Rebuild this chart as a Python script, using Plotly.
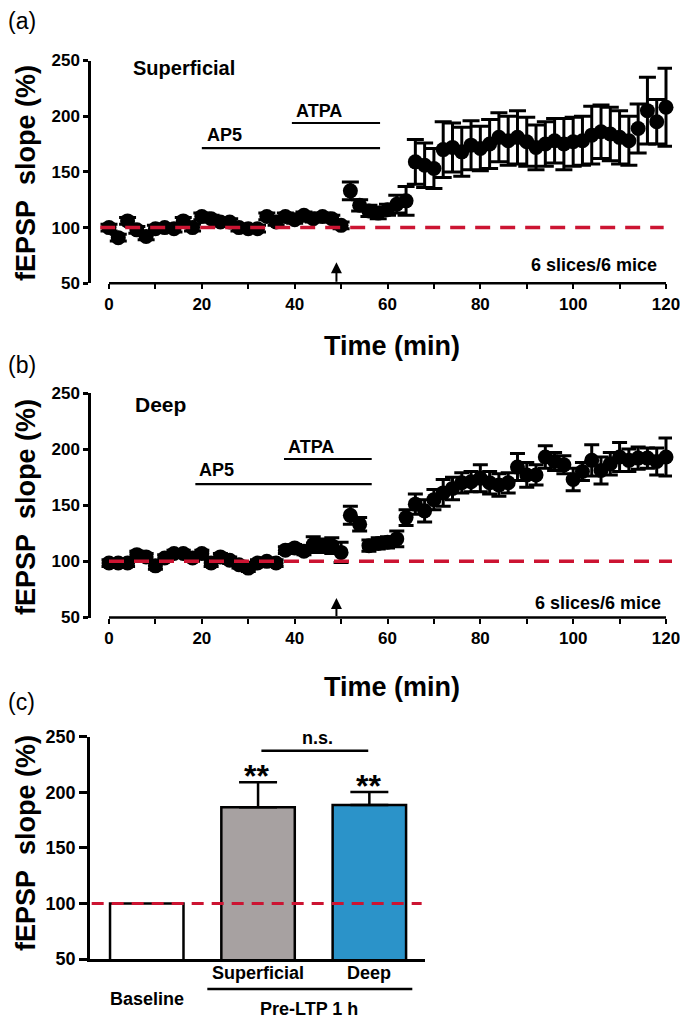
import plotly.graph_objects as go

# target picture size and the page's default body margin (figure starts 8px in)
PAGE_W, PAGE_H = 688, 1021
BODY = 8
W, H = PAGE_W - BODY, PAGE_H - BODY

# ---------------- data ----------------
time_min = [0, 2, 4, 6, 8, 10, 12, 14, 16, 18, 20, 22, 24, 26, 28, 30, 32, 34, 36, 38, 40,
            42, 44, 46, 48, 50, 52, 54, 56, 58, 60, 62, 64, 66, 68, 70, 72, 74, 76, 78, 80,
            82, 84, 86, 88, 90, 92, 94, 96, 98, 100, 102, 104, 106, 108, 110, 112, 114, 116, 118, 120]

sup_mean = [100, 91, 106, 98, 92, 99, 100, 99, 106, 100, 110, 108, 105, 105, 100, 99, 99, 110, 105, 110,
            107, 111, 108, 110, 108, 102,
            133, 120, 115, 113, 116, 121, 124, 159, 156, 153, 170, 172, 168, 174, 171, 175, 181, 178,
            181, 177, 172, 175, 178, 175, 177, 178, 183, 186, 184, 181, 178, 189, 205, 195, 208]
sup_err = [3, 3, 3, 3, 3, 3, 3, 3, 3, 3, 3, 3, 3, 3, 3, 3, 3, 3, 3, 3, 3, 3, 3, 3, 3, 3,
           8, 5, 5, 5, 5, 8, 13, 20, 20, 18, 25, 22, 22, 22, 20, 22, 22, 22, 24, 22, 20, 20, 20, 23,
           22, 22, 26, 24, 24, 24, 22, 22, 30, 20, 35]

deep_mean = [98.5, 98.5, 98.5, 106, 104, 96, 103, 107, 107, 103, 107, 98.5, 104, 101, 97, 94, 98.5, 100,
             98.5, 110, 112, 109, 115, 114, 114, 108,
             141, 133, 114, 116, 117, 120, 139, 151, 145, 155, 161, 165, 170, 171, 174, 170, 168, 170,
             184, 177, 177, 193, 189, 186, 173, 180, 190, 181, 187, 193, 190, 192, 192, 189, 193]
deep_err = [3, 3, 3, 3, 3, 3, 3, 3, 3, 3, 3, 3, 3, 3, 3, 3, 3, 3, 3, 3, 3, 3, 7, 6, 7, 9,
            8, 6, 5, 5, 5, 7, 7, 9, 10, 9, 12, 10, 9, 9, 12, 10, 10, 9, 12, 11, 9, 10, 8, 8,
            10, 8, 14, 12, 10, 13, 10, 10, 9, 12, 17]

sup_ap5 = [20, 58.4]
sup_atpa = [39.4, 58.4]
deep_ap5 = [18.6, 56.6]
deep_atpa = [37.7, 56.6]
stim_time = 49

bar_cats = ["Baseline", "Superficial", "Deep"]
bar_mean = [100, 186.5, 188.6]
bar_sem = [0, 22.5, 11.7]
bar_colors = ["#ffffff", "#a7a1a1", "#2b93c9"]
group_label = "Pre-LTP 1 h"

RED = "#cc1432"
FONT = "Liberation Sans"


def px(x):
    return (x - BODY) / W


def py(y):
    return 1 - (y - BODY) / H


fig = go.Figure()

ppm = (666 - 109) / 120.0
x_left, x_right = 91, 672
t_range = [(x_left - 109) / ppm, 120 + (x_right - 666) / ppm]

tick_font = dict(family=FONT, size=17, color="black", weight="bold")

common_x = dict(range=t_range, showline=False, showgrid=False, zeroline=False, automargin=False,
                ticks="outside", ticklen=5, tickwidth=2, tickcolor="black",
                tick0=0, dtick=20, tickfont=tick_font, ticklabeloverflow="allow",
                minor=dict(ticks="outside", tick0=0, dtick=10, ticklen=5, tickwidth=2, tickcolor="black"))
common_y = dict(range=[50, 250], showline=True, linewidth=2.5, linecolor="black", automargin=False,
                showgrid=False, zeroline=False, ticks="outside", ticklen=5, tickwidth=2.5,
                tickcolor="black", tick0=50, dtick=50, tickfont=tick_font)

fig.update_layout(
    xaxis=dict(domain=[px(x_left), px(x_right)], anchor="y", **common_x),
    yaxis=dict(domain=[py(283.3), py(60.5)], anchor="x", **common_y),
    xaxis2=dict(domain=[px(x_left), px(x_right)], anchor="y2", **common_x),
    yaxis2=dict(domain=[py(617.5), py(393)], anchor="x2", **common_y),
    xaxis3=dict(domain=[px(90), px(425)], anchor="y3", range=[-0.51, 2.5], automargin=False,
                showline=True, linewidth=2.5, linecolor="black", showgrid=False,
                zeroline=False, showticklabels=False, ticks=""),
    yaxis3=dict(domain=[py(959), py(736.7)], anchor="x3", range=[50, 250], showline=True,
                linewidth=2.5, linecolor="black", showgrid=False, zeroline=False, automargin=False,
                ticks="outside", ticklen=8, tickwidth=2.5, tickcolor="black",
                tick0=50, dtick=50, tickfont=dict(family=FONT, size=18, color="black", weight="bold")),
)

for mean, err, xa, ya, cap in [(sup_mean, sup_err, "x", "y", 8.5), (deep_mean, deep_err, "x2", "y2", 7.5)]:
    fig.add_trace(go.Scatter(
        x=time_min, y=mean, mode="markers", xaxis=xa, yaxis=ya,
        marker=dict(size=15, color="black"),
        error_y=dict(type="data", array=err, visible=True, color="black", thickness=3, width=cap),
        cliponaxis=False, showlegend=False))

fig.add_trace(go.Bar(
    x=[0, 1, 2], y=bar_mean, xaxis="x3", yaxis="y3", width=0.66,
    marker=dict(color=bar_colors, line=dict(color="black", width=2.5)),
    showlegend=False))
fig.add_trace(go.Scatter(
    x=[1, 2], y=bar_mean[1:], xaxis="x3", yaxis="y3", mode="markers",
    marker=dict(size=1, color="rgba(0,0,0,0)"),
    error_y=dict(type="data", symmetric=False, array=bar_sem[1:], arrayminus=[0, 0],
                 color="black", thickness=2.5, width=19),
    showlegend=False))

shapes = []
for xr, yr in [("x", "y domain"), ("x2", "y2 domain")]:
    shapes.append(dict(type="line", xref=xr, yref=yr, x0=time_min[0], x1=time_min[-1], y0=0, y1=0,
                       line=dict(color="black", width=2.5), layer="above"))
for xr, yr, seg, yv in [("x", "y", sup_ap5, 171.4), ("x", "y", sup_atpa, 193.9),
                        ("x2", "y2", deep_ap5, 168.9), ("x2", "y2", deep_atpa, 191.2)]:
    shapes.append(dict(type="line", xref=xr, yref=yr, x0=seg[0], x1=seg[1], y0=yv, y1=yv,
                       line=dict(color="black", width=2.2)))
shapes.append(dict(type="line", xref="x", yref="y", x0=-1.9, x1=119.5, y0=100, y1=100,
                   line=dict(color=RED, width=3.5, dash="15px,10px"), layer="above"))
shapes.append(dict(type="line", xref="x2", yref="y2", x0=0, x1=122.3, y0=100, y1=100,
                   line=dict(color=RED, width=3.5, dash="15px,10px"), layer="above"))
shapes.append(dict(type="line", xref="x3 domain", yref="y3", x0=0.005, x1=0.99, y0=100, y1=100,
                   line=dict(color=RED, width=3, dash="12px,8px"), layer="above"))
shapes.append(dict(type="line", xref="x3", yref="y3", x0=1.03, x1=1.99, y0=237.4, y1=237.4,
                   line=dict(color="black", width=2.5)))
shapes.append(dict(type="line", xref="x3", yref="paper", x0=0.544, x1=2.386, y0=py(989), y1=py(989),
                   line=dict(color="black", width=2.5)))
fig.update_layout(shapes=shapes)

ann = []


def text(x, y, s, size, bold=True, angle=0):
    ann.append(dict(x=px(x), y=py(y), xref="paper", yref="paper", text=s, showarrow=False,
                    xanchor="center", yanchor="middle", textangle=angle, borderpad=0,
                    font=dict(family=FONT, size=size, color="black",
                              weight="bold" if bold else "normal")))


text(22, 21.5, "(a)", 23, bold=False)
text(22, 365, "(b)", 23, bold=False)
text(21, 702, "(c)", 23, bold=False)
ytitle = "fEPSP\u00a0 slope (%)"
text(26, 173, ytitle, 27, angle=-90)
text(26, 507, ytitle, 27, angle=-90)
text(26, 843, ytitle, 27, angle=-90)
text(392, 346, "Time (min)", 27)
text(392, 687, "Time (min)", 27)
text(184, 68, "Superficial", 20)
text(224, 135, "AP5", 18)
text(319, 111, "ATPA", 18)
text(594, 265, "6 slices/6 mice", 18)
text(160, 404, "Deep", 21)
text(216, 470, "AP5", 18)
text(311, 447, "ATPA", 18)
text(598, 603, "6 slices/6 mice", 18)
text(146.5, 999, bar_cats[0], 18)
text(258, 973, bar_cats[1], 18)
text(369, 973, bar_cats[2], 18)
text(309, 1008.5, group_label, 18)
text(317, 738, "n.s.", 18)
text(257, 776, "**", 32)
text(368, 786, "**", 32)

for xr, yr, tip in [("x", "y", 69), ("x2", "y2", 67.4)]:
    ann.append(dict(x=stim_time, y=tip, ax=stim_time, ay=50, xref=xr, yref=yr, axref=xr, ayref=yr,
                    text="", showarrow=True, arrowhead=2, arrowsize=1.1, arrowwidth=2, arrowcolor="black"))

fig.update_layout(annotations=ann, width=W, height=H,
                  margin=dict(l=0, r=0, t=0, b=0, pad=0, autoexpand=False),
                  plot_bgcolor="white", paper_bgcolor="white", showlegend=False,
                  font=dict(family=FONT, color="black"))

fig.write_html("out.html", config={"displayModeBar": False})
